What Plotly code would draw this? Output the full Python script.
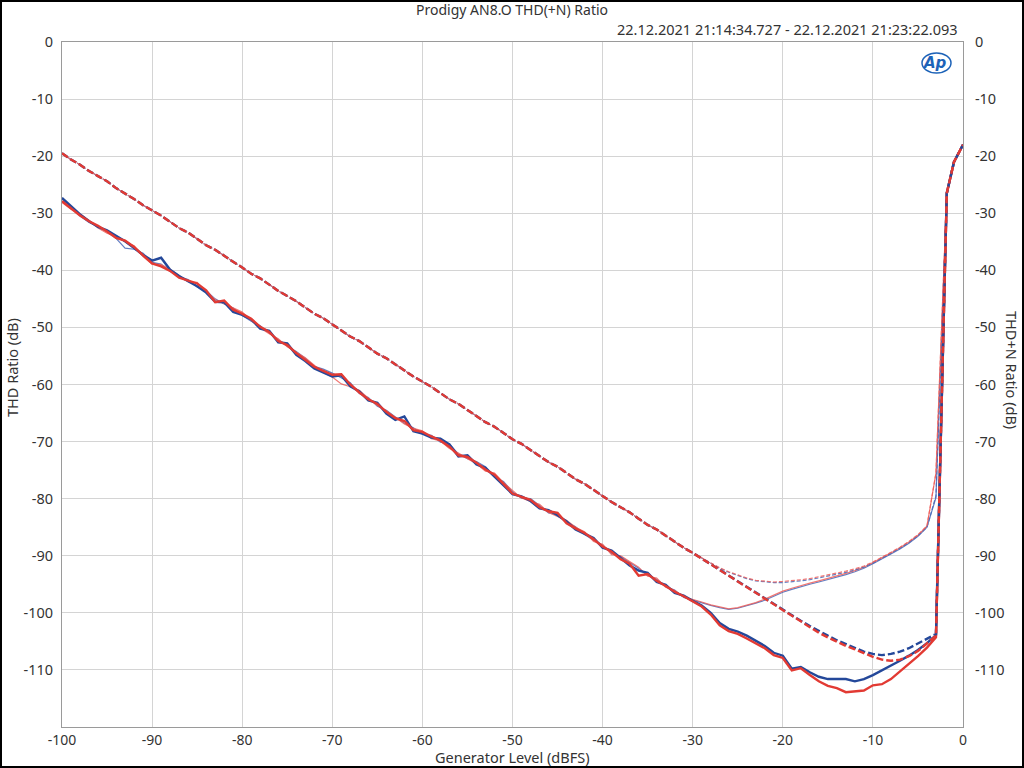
import plotly.graph_objects as go

# ---------------- data ----------------
gen_main = [float(v) for v in range(-100, -29)]          # -100 .. -30
gen_tail = [float(v) for v in range(-29, -2)]            # -29 .. -3
gen_end = [-1.8, -1.0, 0.0]

thd_thick_blue_main = [
    -27.3, -28.8, -30.2, -31.4, -32.4, -33.0, -34.0, -34.9, -36.1, -37.3,
    -38.3, -37.8, -39.9, -41.0, -41.9, -42.8, -43.9, -45.5, -45.6, -47.3,
    -47.8, -48.6, -50.2, -50.6, -52.6, -52.8, -54.8, -55.9, -57.2, -57.9,
    -58.6, -58.4, -60.3, -61.2, -62.8, -63.2, -65.1, -66.2, -65.6, -68.2,
    -68.6, -69.3, -69.5, -70.5, -72.6, -72.4, -74.0, -74.6, -76.1, -77.6,
    -79.2, -79.6, -80.4, -81.7, -82.0, -82.9, -84.0, -85.4, -86.2, -86.9,
    -88.6, -89.1, -90.4, -91.7, -92.6, -93.0, -94.6, -95.1, -96.5, -97.0,
    -97.9]
thd_thick_red_main = [
    -27.9, -29.2, -30.4, -31.4, -32.2, -33.2, -34.3, -34.8, -35.9, -37.4,
    -38.8, -39.3, -40.1, -41.3, -41.8, -42.3, -43.5, -45.6, -45.3, -46.9,
    -47.6, -48.5, -49.9, -50.8, -52.4, -53.1, -54.5, -55.7, -56.9, -57.6,
    -58.3, -58.2, -60.0, -61.4, -62.6, -63.4, -64.8, -65.9, -66.4, -68.0,
    -68.3, -69.1, -69.8, -70.9, -72.4, -72.7, -73.7, -74.9, -75.8, -77.4,
    -79.1, -79.7, -80.2, -81.5, -82.2, -82.5, -84.3, -85.2, -86.0, -87.1,
    -88.4, -89.3, -90.6, -91.4, -93.5, -93.2, -94.4, -95.3, -96.3, -97.1,
    -98.0]
thd_thin_blue_main = [
    -27.5, -29.0, -30.5, -31.6, -32.3, -33.2, -34.4, -36.1, -36.3, -37.0,
    -38.6, -38.9, -40.2, -41.1, -41.6, -42.9, -43.6, -45.0, -45.9, -46.6,
    -47.9, -48.9, -49.7, -51.0, -52.1, -53.3, -54.2, -55.4, -56.8, -57.3,
    -58.0, -58.9, -59.7, -61.6, -62.3, -63.8, -64.5, -65.7, -66.8, -67.6,
    -68.7, -68.9, -70.1, -70.4, -72.2, -73.0, -73.5, -74.4, -76.2, -77.0,
    -78.8, -79.9, -80.0, -81.2, -82.5, -82.8, -84.1, -84.9, -86.3, -87.3,
    -88.1, -89.6, -90.1, -91.2, -92.2, -93.4, -94.1, -95.4, -96.0, -97.3,
    -97.8]
thd_thin_red_main = [
    -28.1, -29.3, -30.1, -31.2, -32.6, -33.5, -34.1, -35.0, -35.7, -37.6,
    -38.9, -39.0, -39.8, -40.9, -42.0, -42.1, -43.9, -45.1, -45.8, -46.5,
    -47.3, -48.8, -50.1, -51.1, -52.0, -53.4, -54.3, -55.3, -56.6, -57.9,
    -58.7, -59.9, -60.4, -61.0, -62.4, -63.7, -64.6, -65.8, -66.9, -67.7,
    -68.1, -69.5, -69.9, -71.2, -72.0, -73.0, -73.9, -75.2, -75.5, -77.2,
    -78.6, -79.9, -80.5, -81.0, -82.4, -83.1, -83.8, -85.0, -85.8, -87.5,
    -88.0, -89.8, -90.0, -91.0, -92.0, -93.6, -93.9, -95.5, -96.1, -97.2,
    -97.6]

thd_thick_blue_tail = [
    -98.7, -100.0, -101.8, -102.8, -103.3, -104.0, -104.9, -105.8, -107.0, -107.5,
    -109.8, -109.5, -110.4, -111.2, -111.6, -111.6, -111.6, -112.0, -111.6, -110.9,
    -110.1, -109.3, -108.4, -107.5, -106.5, -105.3, -103.9]
thd_thick_red_tail = [
    -98.9, -100.3, -102.2, -103.2, -103.7, -104.5, -105.3, -106.2, -107.4, -107.9,
    -110.1, -109.7, -110.9, -112.0, -112.8, -113.2, -113.9, -113.8, -113.6, -112.7,
    -112.5, -111.6, -110.3, -109.0, -107.6, -106.1, -104.3]
thd_thin_blue_tail = [
    -98.3, -98.7, -99.1, -99.4, -99.2, -98.8, -98.3, -97.8, -97.1, -96.4,
    -95.9, -95.4, -95.0, -94.6, -94.2, -93.8, -93.3, -92.8, -92.2, -91.4,
    -90.6, -89.7, -88.8, -87.8, -86.6, -85.0, -79.8]
thd_thin_red_tail = [
    -98.1, -98.6, -99.0, -99.3, -99.1, -98.7, -98.2, -97.6, -96.9, -96.2,
    -95.7, -95.2, -94.8, -94.4, -94.0, -93.6, -93.1, -92.6, -92.0, -91.2,
    -90.4, -89.5, -88.6, -87.6, -86.4, -84.8, -75.5]

thdn_main = [
    -19.5, -20.6, -21.5, -22.6, -23.5, -24.4, -25.6, -26.5, -27.5, -28.6,
    -29.5, -30.4, -31.5, -32.6, -33.4, -34.5, -35.6, -36.4, -37.5, -38.5,
    -39.5, -40.6, -41.4, -42.5, -43.6, -44.5, -45.4, -46.5, -47.6, -48.4,
    -49.5, -50.5, -51.6, -52.4, -53.5, -54.6, -55.4, -56.5, -57.5, -58.6,
    -59.5, -60.4, -61.5, -62.6, -63.4, -64.5, -65.5, -66.6, -67.4, -68.5,
    -69.6, -70.4, -71.5, -72.5, -73.6, -74.4, -75.5, -76.6, -77.4, -78.5,
    -79.5, -80.6, -81.5, -82.4, -83.5, -84.6, -85.4, -86.5, -87.5, -88.6,
    -89.5]
thdn_thick_blue_tail = [
    -90.5, -91.5, -92.5, -93.5, -94.5, -95.5, -96.5, -97.5, -98.5, -99.5,
    -100.5, -101.4, -102.3, -103.2, -104.0, -104.8, -105.5, -106.2, -106.8, -107.2,
    -107.4, -107.2, -106.8, -106.2, -105.4, -104.5, -103.7]
thdn_thick_red_tail = [
    -90.5, -91.5, -92.5, -93.5, -94.5, -95.5, -96.5, -97.5, -98.5, -99.6,
    -100.6, -101.6, -102.6, -103.5, -104.3, -105.1, -105.8, -106.4, -107.1, -107.7,
    -108.2, -108.4, -108.2, -107.6, -106.7, -105.3, -104.0]
thdn_thin_blue_tail = [
    -90.4, -91.3, -92.2, -92.9, -93.5, -94.0, -94.4, -94.6, -94.7, -94.7,
    -94.6, -94.4, -94.2, -93.9, -93.6, -93.3, -92.9, -92.5, -92.0, -91.3,
    -90.5, -89.6, -88.7, -87.7, -86.5, -85.0, -79.5]
thdn_thin_red_tail = [
    -90.4, -91.3, -92.1, -92.8, -93.4, -93.9, -94.3, -94.5, -94.6, -94.5,
    -94.4, -94.2, -94.0, -93.7, -93.4, -93.1, -92.7, -92.3, -91.8, -91.1,
    -90.3, -89.4, -88.5, -87.5, -86.3, -84.8, -75.5]

end_values = [-26.5, -21.0, -18.0]

x_ticks = [-100, -90, -80, -70, -60, -50, -40, -30, -20, -10, 0]
y_ticks = [0, -10, -20, -30, -40, -50, -60, -70, -80, -90, -100, -110]

title_text = "Prodigy AN8.O THD(+N) Ratio"
date_text = "22.12.2021 21:14:34.727 - 22.12.2021 21:23:22.093"

# ---------------- figure ----------------
gen = gen_main + gen_tail + gen_end
for arr in (thd_thick_blue_main, thd_thick_red_main, thd_thin_blue_main, thd_thin_red_main, thdn_main):
    assert len(arr) == len(gen_main), len(arr)

BLUE = "#24489a"
RED = "#e23a33"
BLUE_T = "rgba(70,105,185,0.85)"
RED_T = "rgba(238,95,90,0.85)"

fig = go.Figure()

def add(y, color, width, dash, axis):
    fig.add_trace(go.Scatter(x=gen, y=y, mode="lines", yaxis=axis,
                             line=dict(color=color, width=width, dash=dash),
                             hoverinfo="skip", showlegend=False))

# THD+N (right axis)
add(thdn_main + thdn_thin_blue_tail + end_values, BLUE_T, 1.2, "4px,2px", "y2")
add(thdn_main + thdn_thin_red_tail + end_values, RED_T, 1.2, "4px,2px", "y2")
add(thdn_main + thdn_thick_blue_tail + end_values, BLUE, 2.4, "7px,3px", "y2")
add(thdn_main + thdn_thick_red_tail + end_values, RED, 2.4, "7px,3px", "y2")
# THD (left axis)
add(thd_thin_blue_main + thd_thin_blue_tail + end_values, BLUE_T, 1.2, "solid", "y")
add(thd_thin_red_main + thd_thin_red_tail + end_values, RED_T, 1.2, "solid", "y")
add(thd_thick_blue_main + thd_thick_blue_tail + end_values, BLUE, 2.4, "solid", "y")
add(thd_thick_red_main + thd_thick_red_tail + end_values, RED, 2.4, "solid", "y")

FONT = "Noto Sans, Open Sans, DejaVu Sans, sans-serif"
TXT = "#333333"
GRID = "#d4d4d4"
FRAME = "#9a9a9a"
FS = 14.5

L, R, T, B = 62, 61, 42, 41
W, H = 1024, 768
pw, ph = W - L - R, H - T - B

def px(xp):
    return (xp - L) / pw

def py(yp):
    return (H - B - yp) / ph

fig.update_layout(
    width=W, height=H,
    margin=dict(l=L, r=R, t=T, b=B),
    paper_bgcolor="white", plot_bgcolor="white",
    font=dict(family=FONT, size=FS, color=TXT),
    xaxis=dict(range=[-100, 0], tickvals=x_ticks, ticktext=[str(v) for v in x_ticks],
               showgrid=True, gridcolor=GRID, gridwidth=1, zeroline=False,
               showline=True, linecolor=FRAME, linewidth=1, mirror=True,
               ticks="", tickfont=dict(size=14)),
    yaxis=dict(range=[-120, 0], tickvals=y_ticks, ticktext=[str(v) for v in y_ticks],
               showgrid=True, gridcolor=GRID, gridwidth=1, zeroline=False,
               showline=True, linecolor=FRAME, linewidth=1, mirror=True,
               ticks="outside", ticklen=5, tickcolor="rgba(0,0,0,0)"),
    yaxis2=dict(range=[-120, 0], tickvals=y_ticks, ticktext=[str(v) for v in y_ticks],
                overlaying="y", side="right", showgrid=False, zeroline=False,
                showline=False, ticks="outside", ticklen=8, tickcolor="rgba(0,0,0,0)"),
)

annotations = [
    dict(text=title_text, x=px(512), y=py(9), xanchor="center", yanchor="middle",
         font=dict(size=14, color=TXT)),
    dict(text=date_text, x=px(960), y=py(29), xanchor="right", yanchor="middle",
         font=dict(size=FS, color=TXT)),
    dict(text="Generator Level (dBFS)", x=px(512), y=py(757), xanchor="center", yanchor="middle",
         font=dict(size=FS, color=TXT)),
    dict(text="THD Ratio (dB)", x=px(12), y=py(368), xanchor="center", yanchor="middle",
         textangle=-90, font=dict(size=FS, color=TXT)),
    dict(text="THD+N Ratio (dB)", x=px(1012), y=py(370), xanchor="center", yanchor="middle",
         textangle=90, font=dict(size=FS, color=TXT)),
    dict(text="<b><i>Ap</i></b>", x=px(935), y=py(63), xanchor="center", yanchor="middle",
         font=dict(size=15, color="#1d63b8", family="DejaVu Sans")),
]
for a in annotations:
    a.update(xref="paper", yref="paper", showarrow=False)
fig.update_layout(annotations=annotations)

fig.add_shape(type="circle", xref="paper", yref="paper",
              x0=px(922), x1=px(951), y0=py(73), y1=py(53),
              line=dict(color="#1d63b8", width=1.5))
fig.add_shape(type="rect", xref="paper", yref="paper",
              x0=px(1), x1=px(1023), y0=py(767), y1=py(1),
              line=dict(color="black", width=2))

fig.write_html("out.html", config={"displayModeBar": False},
               post_script="document.body.style.margin='0px';document.body.style.overflow='hidden';")
